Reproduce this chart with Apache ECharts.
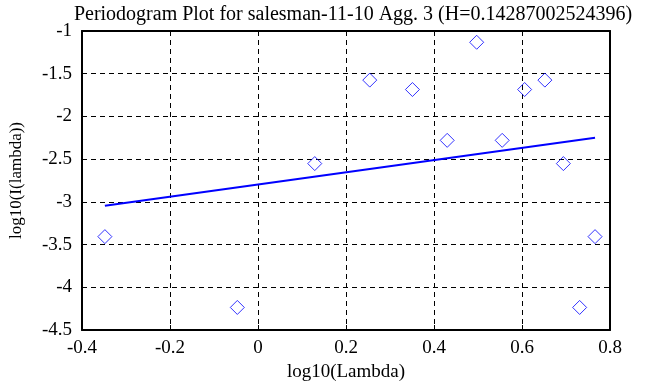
<!DOCTYPE html>
<html>
<head>
<meta charset="utf-8">
<script src="https://cdn.jsdelivr.net/npm/echarts@6/dist/echarts.min.js"></script>
<style>html,body{margin:0;padding:0;background:#fff;}#c{width:668px;height:387px;}</style>
</head>
<body>
<div id="c"></div>
<script>
var logLambda = [-0.348, -0.047, 0.129, 0.254, 0.351, 0.430, 0.497, 0.555, 0.606, 0.652, 0.694, 0.731, 0.766];
var logI = [-3.407, -4.236, -2.552, -1.575, -1.685, -2.280, -1.132, -2.280, -1.685, -1.575, -2.552, -4.236, -3.407];
var fitX = [-0.348, 0.766];
var fitY = [-3.046, -2.250];
var titleText = 'Periodogram Plot for salesman-11-10 Agg. 3 (H=0.14287002524396)';

var font = 'Liberation Serif';
var chart = echarts.init(document.getElementById('c'));
var gridLine = {show: true, lineStyle: {color: '#000', type: [5, 4], width: 1}};
var axisLine = {show: true, onZero: false, lineStyle: {color: '#000', width: 2}};
var ticks = {show: true, inside: true, length: 5, lineStyle: {color: '#000', width: 1}};
var fmt = function (v) { return String(Math.round(v * 10) / 10); };
chart.setOption({
  backgroundColor: '#fff',
  animation: false,
  title: {text: titleText, left: 348, textAlign: 'center', top: 0,
    textStyle: {fontFamily: font, fontSize: 20, fontWeight: 'normal', color: '#000'}},
  grid: {left: 82, right: 58, top: 31, bottom: 56},
  xAxis: [{
    type: 'value', min: -0.4, max: 0.8, interval: 0.2,
    name: 'log10(Lambda)', nameLocation: 'middle', nameGap: 33,
    nameTextStyle: {fontFamily: font, fontSize: 19, color: '#000'},
    axisLine: axisLine, axisTick: ticks, splitLine: gridLine,
    axisLabel: {fontFamily: font, fontSize: 19, color: '#000', margin: 9, formatter: fmt}
  }, {
    type: 'value', min: -0.4, max: 0.8, interval: 0.2, position: 'top',
    axisLine: axisLine, axisTick: ticks, splitLine: {show: false}, axisLabel: {show: false}
  }],
  yAxis: [{
    type: 'value', min: -4.5, max: -1, interval: 0.5,
    name: 'log10(I(lambda))', nameLocation: 'middle', nameGap: 57,
    nameTextStyle: {fontFamily: font, fontSize: 17, color: '#000'},
    axisLine: axisLine, axisTick: ticks, splitLine: gridLine,
    axisLabel: {fontFamily: font, fontSize: 19, color: '#000', margin: 10, formatter: fmt}
  }, {
    type: 'value', min: -4.5, max: -1, interval: 0.5, position: 'right',
    axisLine: axisLine, axisTick: ticks, splitLine: {show: false}, axisLabel: {show: false}
  }],
  series: [{
    type: 'scatter',
    data: logLambda.map(function (x, i) { return [x, logI[i]]; }),
    symbol: 'diamond', symbolSize: 14,
    itemStyle: {color: 'rgba(0,0,0,0)', borderColor: '#0000ff', borderWidth: 1}
  }, {
    type: 'line',
    data: fitX.map(function (x, i) { return [x, fitY[i]]; }),
    showSymbol: false, symbol: 'none',
    lineStyle: {color: '#0000ff', width: 2}
  }]
});
</script>
</body>
</html>
